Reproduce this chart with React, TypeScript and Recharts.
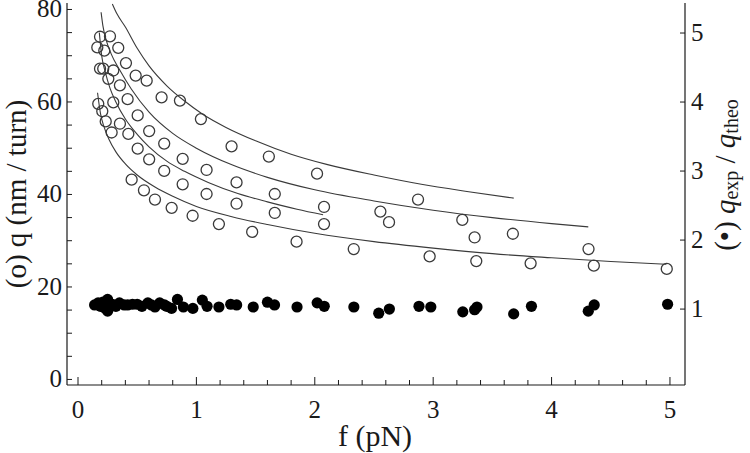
import React from 'react'
import { ComposedChart, Scatter, Line, XAxis, YAxis } from 'recharts'

// open circles: q (nm / turn) vs f (pN)
const qPoints = [
  { f: 0.186, q: 74.1 }, { f: 0.27, q: 74.2 }, { f: 0.163, q: 71.8 }, { f: 0.222, q: 71.1 },
  { f: 0.34, q: 71.7 }, { f: 0.405, q: 68.4 }, { f: 0.186, q: 67.2 }, { f: 0.213, q: 67.2 },
  { f: 0.298, q: 66.8 }, { f: 0.256, q: 65.0 }, { f: 0.487, q: 65.7 }, { f: 0.58, q: 64.6 },
  { f: 0.354, q: 63.6 }, { f: 0.706, q: 61.0 }, { f: 0.861, q: 60.3 }, { f: 0.419, q: 60.6 },
  { f: 0.298, q: 59.9 }, { f: 0.171, q: 59.6 }, { f: 0.205, q: 58.0 }, { f: 0.504, q: 57.1 },
  { f: 0.234, q: 55.8 }, { f: 0.354, q: 55.3 }, { f: 1.038, q: 56.3 }, { f: 0.284, q: 53.4 },
  { f: 0.425, q: 53.1 }, { f: 0.601, q: 53.7 }, { f: 0.728, q: 51.0 }, { f: 0.504, q: 49.9 },
  { f: 0.601, q: 47.6 }, { f: 0.884, q: 47.7 }, { f: 0.728, q: 45.1 }, { f: 0.884, q: 42.2 },
  { f: 0.453, q: 43.2 }, { f: 0.557, q: 40.9 }, { f: 0.65, q: 38.9 }, { f: 0.791, q: 37.1 },
  { f: 0.968, q: 35.4 }, { f: 1.297, q: 50.4 }, { f: 1.612, q: 48.2 }, { f: 2.019, q: 44.5 },
  { f: 1.086, q: 45.3 }, { f: 1.339, q: 42.6 }, { f: 1.662, q: 40.1 }, { f: 2.078, q: 37.3 },
  { f: 1.086, q: 40.1 }, { f: 1.339, q: 38.0 }, { f: 1.662, q: 36.0 }, { f: 2.078, q: 33.6 },
  { f: 1.19, q: 33.6 }, { f: 1.471, q: 31.9 }, { f: 1.846, q: 29.8 }, { f: 2.329, q: 28.2 },
  { f: 2.872, q: 38.9 }, { f: 2.554, q: 36.3 }, { f: 2.627, q: 34.0 }, { f: 3.246, q: 34.5 },
  { f: 3.35, q: 30.7 }, { f: 3.673, q: 31.5 }, { f: 4.312, q: 28.2 }, { f: 2.97, q: 26.6 },
  { f: 3.364, q: 25.6 }, { f: 3.823, q: 25.1 }, { f: 4.357, q: 24.6 }, { f: 4.973, q: 23.9 },
]

// filled dots: q_exp / q_theo vs f (right axis)
const ratioPoints = [
  { f: 0.14, r: 1.06 }, { f: 0.17, r: 1.09 }, { f: 0.19, r: 1.04 }, { f: 0.21, r: 1.1 },
  { f: 0.23, r: 1.01 }, { f: 0.25, r: 1.14 }, { f: 0.25, r: 0.97 }, { f: 0.29, r: 1.07 },
  { f: 0.32, r: 1.04 }, { f: 0.35, r: 1.09 }, { f: 0.39, r: 1.06 }, { f: 0.42, r: 1.06 },
  { f: 0.46, r: 1.07 }, { f: 0.5, r: 1.07 }, { f: 0.54, r: 1.04 }, { f: 0.59, r: 1.09 },
  { f: 0.62, r: 1.06 }, { f: 0.65, r: 1.03 }, { f: 0.69, r: 1.09 }, { f: 0.73, r: 1.06 },
  { f: 0.75, r: 1.04 }, { f: 0.79, r: 1.01 }, { f: 0.84, r: 1.14 }, { f: 0.89, r: 1.03 },
  { f: 0.97, r: 1.01 }, { f: 1.05, r: 1.13 }, { f: 1.09, r: 1.04 }, { f: 1.19, r: 1.03 },
  { f: 1.29, r: 1.07 }, { f: 1.34, r: 1.06 }, { f: 1.48, r: 1.03 }, { f: 1.6, r: 1.1 },
  { f: 1.66, r: 1.06 }, { f: 1.85, r: 1.03 }, { f: 2.02, r: 1.09 }, { f: 2.08, r: 1.04 },
  { f: 2.33, r: 1.03 }, { f: 2.54, r: 0.94 }, { f: 2.63, r: 1.0 }, { f: 2.88, r: 1.04 },
  { f: 2.98, r: 1.03 }, { f: 3.25, r: 0.96 }, { f: 3.35, r: 0.99 }, { f: 3.37, r: 1.03 },
  { f: 3.68, r: 0.93 }, { f: 3.83, r: 1.04 }, { f: 4.31, r: 0.97 }, { f: 4.36, r: 1.06 },
  { f: 4.98, r: 1.07 },
]

// fitted curves
const curveA = [
  { f: 0.29, q: 81.2 }, { f: 0.33, q: 79.0 }, { f: 0.4, q: 76.2 }, { f: 0.5, q: 71.6 },
  { f: 0.6, q: 67.8 }, { f: 0.75, q: 63.5 }, { f: 0.9, q: 60.2 }, { f: 1.05, q: 57.4 },
  { f: 1.25, q: 54.5 }, { f: 1.5, q: 51.6 }, { f: 1.8, q: 48.7 }, { f: 2.1, q: 46.5 },
  { f: 2.5, q: 44.2 }, { f: 2.9, q: 42.2 }, { f: 3.3, q: 40.6 }, { f: 3.68, q: 39.2 },
]
const curveB = [
  { f: 0.195, q: 79.4 }, { f: 0.21, q: 76.5 }, { f: 0.24, q: 73.2 }, { f: 0.28, q: 70.4 },
  { f: 0.35, q: 67.0 }, { f: 0.45, q: 62.8 }, { f: 0.6, q: 57.8 }, { f: 0.8, q: 53.2 },
  { f: 1.0, q: 50.0 }, { f: 1.3, q: 46.4 }, { f: 1.6, q: 43.7 }, { f: 2.0, q: 41.0 },
  { f: 2.5, q: 38.6 }, { f: 3.0, q: 36.6 }, { f: 3.5, q: 35.0 }, { f: 4.0, q: 33.7 },
  { f: 4.31, q: 33.0 },
]
const curveC = [
  { f: 0.18, q: 75.0 }, { f: 0.2, q: 70.0 }, { f: 0.23, q: 66.5 }, { f: 0.27, q: 63.0 },
  { f: 0.32, q: 60.0 }, { f: 0.4, q: 56.3 }, { f: 0.5, q: 53.0 }, { f: 0.6, q: 50.3 },
  { f: 0.75, q: 47.2 }, { f: 0.9, q: 45.0 }, { f: 1.1, q: 42.6 }, { f: 1.35, q: 40.2 },
  { f: 1.6, q: 38.4 }, { f: 1.85, q: 36.8 }, { f: 2.07, q: 35.6 },
]
const curveD = [
  { f: 0.165, q: 62.0 }, { f: 0.19, q: 57.5 }, { f: 0.22, q: 54.6 }, { f: 0.26, q: 52.0 },
  { f: 0.32, q: 49.2 }, { f: 0.4, q: 46.6 }, { f: 0.5, q: 44.2 }, { f: 0.65, q: 41.6 },
  { f: 0.8, q: 39.6 }, { f: 1.0, q: 37.4 }, { f: 1.3, q: 35.2 }, { f: 1.6, q: 33.5 },
  { f: 2.0, q: 31.6 }, { f: 2.5, q: 29.8 }, { f: 3.0, q: 28.4 }, { f: 3.5, q: 27.2 },
  { f: 4.0, q: 26.3 }, { f: 4.5, q: 25.5 }, { f: 4.97, q: 24.9 },
]
const curves = [curveA, curveB, curveC, curveD]

const xTicks = [0, 0.2, 0.4, 0.6, 0.8, 1, 1.2, 1.4, 1.6, 1.8, 2, 2.2, 2.4, 2.6, 2.8, 3, 3.2, 3.4, 3.6, 3.8, 4, 4.2, 4.4, 4.6, 4.8, 5]
const xLabels = [0, 1, 2, 3, 4, 5]
const leftTicks = [0, 5, 10, 15, 20, 25, 30, 35, 40, 45, 50, 55, 60, 65, 70, 75, 80]
const leftLabels = [0, 20, 40, 60, 80]
const rightTicks = [1, 2, 3, 4, 5]

const FONT = "'Liberation Serif', 'Times New Roman', 'DejaVu Serif', serif"
const INK = '#1a1a1a'
const LINE = '#3a3a3a'
const txt = { fontFamily: FONT }

const XTick = ({ x, y, payload }: any) => {
  const major = xLabels.includes(payload.value)
  return (
    <g>
      <line x1={x} x2={x} y1={y} y2={y - (major ? 8 : 5)} stroke={INK} strokeWidth={1} />
      {major && (
        <text x={x} y={y + 33} textAnchor="middle" fontSize={25} style={txt} fill={INK}>
          {payload.value}
        </text>
      )}
    </g>
  )
}

const LeftTick = ({ x, y, payload }: any) => {
  const major = leftLabels.includes(payload.value)
  return (
    <g>
      <line x1={x} x2={x + 5} y1={y} y2={y} stroke={INK} strokeWidth={1} />
      {major && (
        <text x={x - 5} y={y + 8} textAnchor="end" fontSize={25} style={txt} fill={INK}>
          {payload.value}
        </text>
      )}
    </g>
  )
}

const RightTick = ({ x, y, payload }: any) => (
  <g>
    <line x1={x} x2={x - 5} y1={y} y2={y} stroke={INK} strokeWidth={1} />
    <text x={x + 6} y={y + 8} textAnchor="start" fontSize={25} style={txt} fill={INK}>
      {payload.value}
    </text>
  </g>
)

const OpenCircle = (props: any) => (
  <circle cx={props.cx} cy={props.cy} r={5.5} fill="none" stroke="#3a3a3a" strokeWidth={1.3} />
)
const FilledDot = (props: any) => <circle cx={props.cx} cy={props.cy} r={5.6} fill="#000" />

export default function App() {
  return (
    <div style={{ position: 'absolute', left: 0, top: 0, background: '#fff', fontFamily: FONT }}>
      <ComposedChart width={750} height={453} margin={{ top: 3, right: 0, bottom: 0, left: 0 }}>
        <XAxis
          dataKey="f"
          type="number"
          domain={[-0.093, 5.127]}
          ticks={xTicks}
          interval={0}
          tick={<XTick />}
          tickSize={0}
          tickMargin={0}
          height={68}
          axisLine={{ stroke: INK, strokeWidth: 1.2 }}
          allowDataOverflow
          label={{
            content: () => (
              <text x={375} y={446} textAnchor="middle" fontSize={30} style={txt} fill={INK}>
                f (pN)
              </text>
            ),
          }}
        />
        <XAxis
          xAxisId="top"
          orientation="top"
          type="number"
          domain={[-0.093, 5.127]}
          ticks={[]}
          tick={false}
          tickLine={false}
          height={0}
          axisLine={{ stroke: INK, strokeWidth: 1.2 }}
        />
        <YAxis
          yAxisId="left"
          dataKey="q"
          type="number"
          domain={[-1.2, 81.4]}
          ticks={leftTicks}
          interval={0}
          tick={<LeftTick />}
          tickSize={0}
          tickMargin={0}
          width={67}
          axisLine={{ stroke: INK, strokeWidth: 1.2 }}
          allowDataOverflow
          label={{
            content: () => (
              <text
                x={16}
                y={194}
                transform="rotate(-90, 16, 194)"
                textAnchor="middle"
                dominantBaseline="central"
                fontSize={29}
                style={txt}
                fill={INK}
              >
                (o) q (nm / turn)
              </text>
            ),
          }}
        />
        <YAxis
          yAxisId="right"
          orientation="right"
          dataKey="r"
          type="number"
          domain={[-0.1, 5.435]}
          ticks={rightTicks}
          interval={0}
          tick={<RightTick />}
          tickSize={0}
          tickMargin={0}
          width={65}
          axisLine={{ stroke: INK, strokeWidth: 1.2 }}
          allowDataOverflow
          label={{
            content: () => (
              <text
                x={725}
                y={175}
                transform="rotate(-90, 725, 175)"
                textAnchor="middle"
                dominantBaseline="central"
                fontSize={29}
                style={txt}
                fill={INK}
              >
                <tspan>(•) </tspan>
                <tspan fontStyle="italic">q</tspan>
                <tspan fontSize={20} dy={6}>exp</tspan>
                <tspan dy={-6}> / </tspan>
                <tspan fontStyle="italic">q</tspan>
                <tspan fontSize={20} dy={6}>theo</tspan>
              </text>
            ),
          }}
        />
        {curves.map((c, i) => (
          <Line
            key={i}
            yAxisId="left"
            data={c}
            dataKey="q"
            type="monotone"
            stroke={LINE}
            strokeWidth={1.1}
            dot={false}
            activeDot={false}
            isAnimationActive={false}
          />
        ))}
        <Scatter yAxisId="left" data={qPoints} shape={<OpenCircle />} isAnimationActive={false} />
        <Scatter yAxisId="right" data={ratioPoints} shape={<FilledDot />} isAnimationActive={false} />
      </ComposedChart>
    </div>
  )
}
